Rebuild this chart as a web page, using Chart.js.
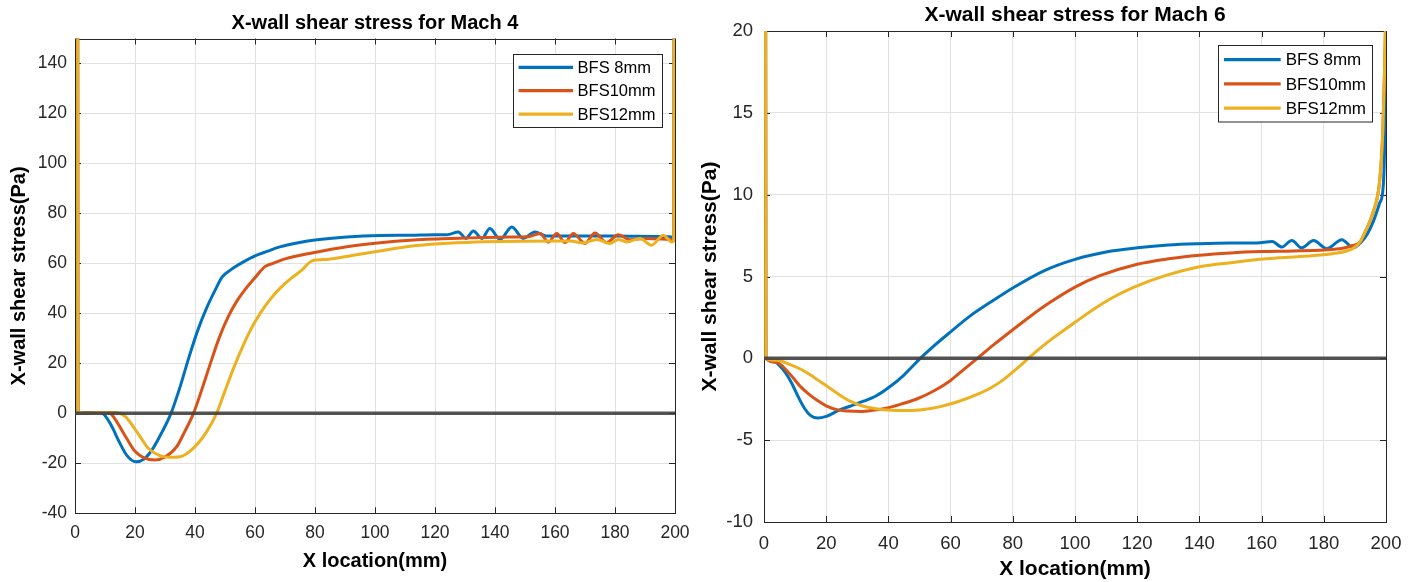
<!DOCTYPE html>
<html><head><meta charset="utf-8">
<script src="https://cdn.jsdelivr.net/npm/chart.js@4.4.1/dist/chart.umd.min.js"></script>
<style>
html,body{margin:0;padding:0;background:#fff;width:1419px;height:582px;overflow:hidden}
#c4{position:absolute;left:0;top:0}
#c6{position:absolute;left:690px;top:0}
</style></head><body>
<canvas id="c4" width="710" height="582"></canvas>
<canvas id="c6" width="729" height="582"></canvas>
<script>
// ---------- labels ----------
const seriesLabels = ['BFS 8mm', 'BFS10mm', 'BFS12mm'];
const titleMach4 = 'X-wall shear stress for Mach 4';
const titleMach6 = 'X-wall shear stress for Mach 6';
const xAxisTitle = 'X location(mm)';
const yAxisTitle = 'X-wall shear stress(Pa)';

// ---------- tick values ----------
const m4XTicks = [0,20,40,60,80,100,120,140,160,180,200];
const m4YTicks = [-40,-20,0,20,40,60,80,100,120,140];
const m6XTicks = [0,20,40,60,80,100,120,140,160,180,200];
const m6YTicks = [-10,-5,0,5,10,15,20];

// ---------- Mach 4 ----------
const m4_bfs8_x = [0.8,1.0,5,8,9.2,11.7,15,17.2,20.3,23,26,29,32,35,38,41,44,47,49,52,56,60,64,68.3,74,80,90.6,101.7,111.7,120,124,127.8,130.3,132.8,135.6,138.3,141.7,145.6,149.4,153.3,157,170,185,198,199.6,200];
const m4_bfs8_y = [400,0,0.3,0.3,0,-4,-12,-16.7,-19.4,-18.3,-14,-7.5,0,10.5,22.5,33.5,42.5,50,54.5,57.5,60.5,63,64.8,66.6,68.2,69.4,70.6,71.2,71.3,71.5,71.5,72.6,70,73.0,70,74,69.6,74.6,70,72.6,71,71,70.9,70.7,70.5,400];

const m4_bfs10_x = [0.8,1.0,6,10,11.7,14,17.2,20,23,26.7,30,33.9,36.7,39.5,42,45,48,51,54,57,60,63.3,66,70,79.4,90.6,101.7,111.7,125,145,151,155,157.8,160.6,163.3,166.1,170,173.3,177.2,181.1,185,190,198,199.6,200];
const m4_bfs10_y = [400,0,0.3,0.3,0,-3.5,-10,-15.2,-17.8,-18.7,-17.5,-13.3,-7,0,8.5,19.5,30,38.5,45,50,54.3,58.7,60,61.8,64.3,66.7,68.3,69.3,70,70.6,70.7,72,68.5,72,68.3,72,68,72.2,68.3,71.5,69.5,70,69.6,69.5,400];

const m4_bfs12_x = [0.8,1.0,8,13,15,17,19.4,21.7,24.4,28,32.8,35,39.4,43.9,47.2,50,53,56,59,62,65,68.3,72,75.5,79,84,92.8,101.7,111.7,133.9,161.7,165,169.4,173.9,178.3,181.1,183.9,188.3,192.2,196.1,198.9,199.6,200];
const m4_bfs12_y = [400,0,0.3,0.3,0,-1.5,-5.3,-9.3,-14,-16.8,-17.6,-17.4,-14,-7.3,0,9,18.5,27,34.5,40.5,45.5,50,54,57.2,61,61.6,63.3,65,66.9,68.6,69,69,68.2,69.6,68,69.6,68.6,70,67.3,71.3,68.6,69,400];

// ---------- Mach 6 ----------
const m6_bfs8_x = [0.4,0.6,3,5,7,9,11,13,15,17.2,20,24,28,32,36,40,45,50,55,60,66,73,80,90,100,110,120,130,140,150,158.5,163.4,166.5,169.7,172.9,176.7,181,185.8,189.5,192,194,196,198,199.1,199.6,200];
const m6_bfs8_y = [60,0,-0.15,-0.45,-0.9,-1.55,-2.35,-3.05,-3.5,-3.65,-3.55,-3.18,-2.9,-2.62,-2.3,-1.8,-1.02,-0.05,0.82,1.62,2.55,3.45,4.3,5.35,6.05,6.5,6.75,6.92,7.0,7.04,7.05,7.14,6.8,7.2,6.75,7.2,6.7,7.25,6.75,7.1,7.6,8.4,9.5,10.5,13.5,22];

const m6_bfs10_x = [0.4,0.6,4,8,11.9,14.5,17.2,20,23.7,27,31.1,35,39.7,44,49.3,55,60,64,68.6,74,80,86,92,100,108,120,130,140,150,160,170,180,186,189,191.6,193.5,195.8,198,199,199.6,200];
const m6_bfs10_y = [60,0,-0.25,-0.9,-1.76,-2.2,-2.58,-2.9,-3.15,-3.22,-3.25,-3.18,-3.03,-2.8,-2.47,-1.95,-1.35,-0.72,0,0.85,1.75,2.62,3.42,4.35,5.05,5.75,6.08,6.3,6.44,6.52,6.56,6.62,6.72,6.88,7.1,7.8,8.9,10.9,14,18,22];

const m6_bfs12_x = [0.4,0.6,4,8,12,16,20.4,24,28,32,36.5,41,45,50,56,62,68,73,77,81,85,89,93,100,106,112,119,129,140,150.8,161.5,172.3,183,189.4,191.6,193.5,195.8,198,199,199.6,200];
const m6_bfs12_y = [60,0,-0.12,-0.35,-0.68,-1.15,-1.72,-2.2,-2.65,-2.93,-3.09,-3.17,-3.19,-3.15,-2.98,-2.67,-2.25,-1.8,-1.3,-0.68,0,0.65,1.25,2.2,3.0,3.7,4.35,5.05,5.6,5.86,6.08,6.22,6.4,6.72,7.1,7.8,8.9,10.9,14,18,22];

// reference line y = 0
const zeroLineX = [0, 200];
const zeroLineY = [0, 0];

// ---------- styling ----------
const FONT = "'Liberation Sans', Arial, Helvetica, sans-serif";
const COLORS = ['#0072BD', '#D95319', '#EDB120'];
const AXIS_COLOR = '#262626';
const GRID_COLOR = '#e1e1e1';

function pts(xs, ys) { return xs.map((x, i) => ({x: x, y: ys[i]})); }

const matBox = {
  id: 'matBox',
  beforeDatasetsDraw(chart, args, o) {
    const {ctx, chartArea: a, scales: {x, y}} = chart;
    ctx.save();
    ctx.strokeStyle = AXIS_COLOR;
    ctx.lineWidth = 1;
    ctx.strokeRect(Math.round(a.left) + 0.5, Math.round(a.top) + 0.5, Math.round(a.right) - Math.round(a.left), Math.round(a.bottom) - Math.round(a.top));
    const L = o.tickLen || 6;
    ctx.beginPath();
    x.ticks.forEach(t => {
      const p = Math.round(x.getPixelForValue(t.value)) + 0.5;
      ctx.moveTo(p, a.bottom); ctx.lineTo(p, a.bottom - L);
      ctx.moveTo(p, a.top); ctx.lineTo(p, a.top + L);
    });
    y.ticks.forEach(t => {
      const p = Math.round(y.getPixelForValue(t.value)) + 0.5;
      ctx.moveTo(a.left, p); ctx.lineTo(a.left + L, p);
      ctx.moveTo(a.right, p); ctx.lineTo(a.right - L, p);
    });
    ctx.stroke();
    ctx.restore();
  }
};

const matLegend = {
  id: 'matLegend',
  afterDraw(chart, args, o) {
    const {ctx, chartArea: a} = chart;
    const bx = Math.round(a.right - o.right - o.w), by = Math.round(a.top + o.top);
    ctx.save();
    ctx.fillStyle = '#fff';
    ctx.fillRect(bx, by, o.w, o.h);
    ctx.strokeStyle = AXIS_COLOR; ctx.lineWidth = 1;
    ctx.strokeRect(bx + 0.5, by + 0.5, o.w, o.h);
    ctx.font = o.fontSize + 'px ' + FONT;
    ctx.textBaseline = 'middle';
    chart.data.datasets.filter(d => !d.noLegend).forEach((d, i) => {
      const yy = by + o.first + i * o.rowH;
      ctx.strokeStyle = d.borderColor; ctx.lineWidth = 3.2;
      ctx.beginPath(); ctx.moveTo(bx + o.l0, yy); ctx.lineTo(bx + o.l1, yy); ctx.stroke();
      ctx.fillStyle = '#000';
      ctx.fillText(d.label, bx + o.tx, yy + 1);
    });
    ctx.restore();
  }
};

function makeChart(id, c) {
  const ds = c.series.map((s, i) => ({
    label: seriesLabels[i],
    data: pts(s[0], s[1]),
    borderColor: COLORS[i],
    borderWidth: 3,
    pointRadius: 0,
    cubicInterpolationMode: 'monotone',
    order: 3 - i
  }));
  ds.push({label: 'zero', noLegend: true, data: pts(zeroLineX, zeroLineY), borderColor: 'rgba(64,64,64,0.9)', borderWidth: 3.5, pointRadius: 0, order: 0});
  return new Chart(document.getElementById(id), {
    type: 'line',
    data: {datasets: ds},
    plugins: [matBox, matLegend],
    options: {
      responsive: false, animation: false, devicePixelRatio: 1,
      layout: {padding: {left: 0, right: c.padRight, top: 0, bottom: 0}},
      plugins: {
        legend: {display: false}, tooltip: {enabled: false},
        title: {display: true, text: c.title, fullSize: false, color: '#000',
          font: {family: FONT, size: c.titleSize, weight: 'bold', lineHeight: 1.2},
          padding: {top: c.titlePadTop, bottom: c.titlePadBottom}},
        matBox: {tickLen: 6},
        matLegend: c.legend
      },
      scales: {
        x: {type: 'linear', min: 0, max: 200,
          afterFit: s => { s.height = c.xHeight; },
          afterBuildTicks: s => { s.ticks = c.xTicks.map(v => ({value: v})); },
          grid: {color: GRID_COLOR, drawTicks: false, lineWidth: 1},
          border: {display: false},
          ticks: {color: AXIS_COLOR, padding: c.xTickPad, maxRotation: 0, autoSkip: false, font: {family: FONT, size: c.tickSize}},
          title: {display: true, text: xAxisTitle, color: '#000', font: {family: FONT, size: c.axisTitleSize, weight: 'bold', lineHeight: 1.2}, padding: {top: 0, bottom: c.xTitlePad}}
        },
        y: {type: 'linear', min: c.yMin, max: c.yMax,
          afterFit: s => { s.width = c.yWidth; },
          afterBuildTicks: s => { s.ticks = c.yTicks.map(v => ({value: v})); },
          grid: {color: GRID_COLOR, drawTicks: false, lineWidth: 1},
          border: {display: false},
          ticks: {color: AXIS_COLOR, padding: c.yTickPad, autoSkip: false, font: {family: FONT, size: c.tickSize}},
          title: {display: true, text: yAxisTitle, color: '#000', font: {family: FONT, size: c.axisTitleSize, weight: 'bold', lineHeight: 1.2}, padding: {top: c.yTitlePad, bottom: 0}}
        }
      }
    }
  });
}

makeChart('c4', {
  title: titleMach4,
  series: [[m4_bfs8_x, m4_bfs8_y], [m4_bfs10_x, m4_bfs10_y], [m4_bfs12_x, m4_bfs12_y]],
  xTicks: m4XTicks, yTicks: m4YTicks, yMin: -40, yMax: 150,
  padRight: 35, yWidth: 75, xHeight: 68.7,
  titleSize: 20, titlePadTop: 11, titlePadBottom: 3.5,
  tickSize: 17.5, xTickPad: 9, yTickPad: 8,
  axisTitleSize: 20, xTitlePad: 9, yTitlePad: 7,
  legend: {right: 13.3, top: 15.5, w: 149, h: 73, first: 13.3, rowH: 23.4, l0: 5.6, l1: 60, tx: 64.6, fontSize: 16.5}
});

makeChart('c6', {
  title: titleMach6,
  series: [[m6_bfs8_x, m6_bfs8_y], [m6_bfs10_x, m6_bfs10_y], [m6_bfs12_x, m6_bfs12_y]],
  xTicks: m6XTicks, yTicks: m6YTicks, yMin: -10, yMax: 20,
  padRight: 33, yWidth: 74, xHeight: 60,
  titleSize: 21, titlePadTop: 2.4, titlePadBottom: 3.4,
  tickSize: 18.5, xTickPad: 11, yTickPad: 11,
  axisTitleSize: 21, xTitlePad: 0, yTitlePad: 7.4,
  legend: {right: 14.3, top: 14, w: 154, h: 76.5, first: 14.6, rowH: 24.3, l0: 6, l1: 62.7, tx: 67.7, fontSize: 17}
});
</script>
</body></html>
